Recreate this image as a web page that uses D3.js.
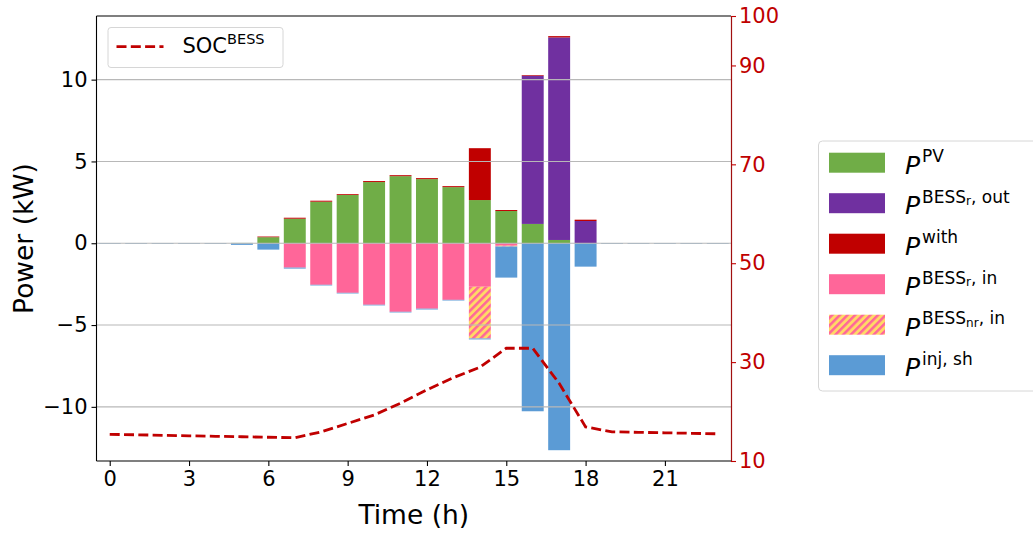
<!DOCTYPE html>
<html>
<head>
<meta charset="utf-8">
<script src="https://cdn.jsdelivr.net/npm/d3@7"></script>
<style>
  html, body { margin: 0; padding: 0; background: #fff; }
  svg { display: block; font-family: "DejaVu Sans", sans-serif; }
</style>
</head>
<body>
<svg id="chart" width="1033" height="534"></svg>
<script>
// Hourly power balance (kW) and battery state of charge (%)
const hours = d3.range(24);
const pv          = [0, 0, 0, 0, 0, 0.02, 0.37, 1.50, 2.54, 2.95, 3.74, 4.10, 3.92, 3.43, 2.64, 1.97, 1.18, 0.20, 0, 0, 0, 0, 0, 0];
const bessROut    = [0, 0, 0, 0, 0, 0, 0, 0, 0, 0, 0, 0, 0, 0, 0, 0, 9.06, 12.38, 1.36, 0, 0, 0, 0, 0];
const withdrawal  = [0, 0, 0, 0, 0, 0, 0.04, 0.06, 0.06, 0.05, 0.06, 0.06, 0.06, 0.06, 3.17, 0.06, 0.04, 0.08, 0.08, 0, 0, 0, 0, 0];
const bessRIn     = [0, 0, 0, 0, 0, 0, 0, -1.49, -2.54, -3.03, -3.76, -4.19, -4.00, -3.46, -2.66, -0.15, 0, 0, 0, 0, 0, 0, 0, 0];
const bessNrIn    = [0, 0, 0, 0, 0, 0, 0, 0, 0, 0, 0, 0, 0, 0, -3.16, -0.05, 0, 0, 0, 0, 0, 0, 0, 0];
const injSh       = [-0.04, -0.04, -0.04, -0.04, -0.04, -0.10, -0.39, -0.06, -0.04, -0.04, -0.04, -0.04, -0.05, -0.04, -0.06, -1.90, -10.27, -12.65, -1.43, -0.04, -0.04, -0.04, -0.04, -0.04];
const soc         = [15.4, 15.3, 15.2, 15.1, 15.0, 14.9, 14.8, 14.7, 15.9, 17.6, 19.3, 21.7, 24.4, 26.85, 28.95, 32.8, 32.8, 25.7, 16.9, 15.9, 15.8, 15.7, 15.6, 15.5];

const xTicks = [0, 3, 6, 9, 12, 15, 18, 21];
const yTicks = [-10, -5, 0, 5, 10];
const socTicks = [10, 30, 50, 70, 90, 100];

const seriesKeys = ["pv", "bessROut", "withdrawal", "bessRIn", "bessNrIn", "injSh"];
const seriesData = { pv, bessROut, withdrawal, bessRIn, bessNrIn, injSh };
const colors = {
  pv: "#70AD47", bessROut: "#7030A0", withdrawal: "#C00000",
  bessRIn: "#FF6699", bessNrIn: "url(#hatchNr)", injSh: "#5B9BD5"
};
const socColor = "#C00000";

const svg = d3.select("#chart");
const plot = { left: 96.5, right: 731, top: 16, bottom: 461 };

// hatch: pink diagonal stripes on yellow
const defs = svg.append("defs");
const pat = defs.append("pattern")
  .attr("id", "hatchNr").attr("patternUnits", "userSpaceOnUse")
  .attr("width", 5.4).attr("height", 5.4)
  .attr("patternTransform", "rotate(45)");
pat.append("rect").attr("width", 5.4).attr("height", 5.4).attr("fill", "#FFD966");
pat.append("rect").attr("width", 2.5).attr("height", 5.4).attr("fill", "#FF6699");

const x = d3.scaleLinear().domain([-0.5, 23.5]).range([plot.left, plot.right]);
const y = d3.scaleLinear().domain([-13.31, 13.89]).range([plot.bottom, plot.top]);
const ySoc = d3.scaleLinear().domain([10, 100]).range([plot.bottom, plot.top]);

const rows = hours.map(h => {
  const r = { hour: h };
  seriesKeys.forEach(k => r[k] = seriesData[k][h]);
  return r;
});
const stacked = d3.stack().keys(seriesKeys).offset(d3.stackOffsetDiverging)(rows);

const barW = (x(0.83) - x(0));
const barsG = svg.append("g");
stacked.forEach(layer => {
  barsG.append("g").attr("fill", colors[layer.key])
    .selectAll("rect").data(layer).join("rect")
    .attr("x", d => x(d.data.hour) - barW / 2)
    .attr("width", barW)
    .attr("y", d => y(Math.max(d[0], d[1])))
    .attr("height", d => Math.abs(y(d[0]) - y(d[1])));
});

// horizontal grid above the bars
svg.append("g").selectAll("line").data(yTicks).join("line")
  .attr("x1", plot.left).attr("x2", plot.right)
  .attr("y1", d => y(d)).attr("y2", d => y(d))
  .attr("stroke", "#b8b8b8").attr("stroke-width", 1.1);

// SOC line on secondary axis
svg.append("path")
  .datum(hours)
  .attr("fill", "none")
  .attr("stroke", socColor)
  .attr("stroke-width", 2.8)
  .attr("stroke-dasharray", "10,4.3")
  .attr("d", d3.line().x(h => x(h)).y(h => ySoc(soc[h])));

// spines
svg.append("line").attr("x1", plot.left).attr("x2", plot.right).attr("y1", plot.top).attr("y2", plot.top)
  .attr("stroke", "#000").attr("stroke-width", 1.1);
svg.append("line").attr("x1", plot.left).attr("x2", plot.right).attr("y1", plot.bottom).attr("y2", plot.bottom)
  .attr("stroke", "#000").attr("stroke-width", 1.1);
svg.append("line").attr("x1", plot.left).attr("x2", plot.left).attr("y1", plot.top).attr("y2", plot.bottom)
  .attr("stroke", "#000").attr("stroke-width", 1.1);

// left axis
const yAxis = svg.append("g").attr("transform", `translate(${plot.left},0)`)
  .call(d3.axisLeft(y).tickValues(yTicks).tickSize(5).tickPadding(4)
    .tickFormat(d => d < 0 ? "\u2212" + Math.abs(d) : d));
yAxis.select(".domain").remove();
yAxis.selectAll("text").attr("font-size", 21).attr("fill", "#000").attr("font-family", "DejaVu Sans");
yAxis.selectAll("line").attr("stroke", "#000").attr("stroke-width", 1.1);

// bottom axis
const xAxis = svg.append("g").attr("transform", `translate(0,${plot.bottom})`)
  .call(d3.axisBottom(x).tickValues(xTicks).tickSize(5).tickPadding(5));
xAxis.select(".domain").remove();
xAxis.selectAll("text").attr("font-size", 21).attr("fill", "#000").attr("font-family", "DejaVu Sans");
xAxis.selectAll("line").attr("stroke", "#000").attr("stroke-width", 1.1);

// right axis (SOC)
const rAxis = svg.append("g").attr("transform", `translate(${plot.right},0)`)
  .call(d3.axisRight(ySoc).tickValues(socTicks).tickSize(5).tickPadding(3));
rAxis.select(".domain").attr("stroke", "#a01010").attr("stroke-width", 1.2);
rAxis.selectAll("text").attr("font-size", 21).attr("fill", socColor).attr("font-family", "DejaVu Sans");
rAxis.selectAll("line").attr("stroke", socColor).attr("stroke-width", 1.1);

// axis titles
svg.append("text").attr("x", (plot.left + plot.right) / 2).attr("y", 524)
  .attr("text-anchor", "middle").attr("font-size", 26.5).text("Time (h)");
svg.append("text").attr("transform", `translate(33,${(plot.top + plot.bottom) / 2}) rotate(-90)`)
  .attr("text-anchor", "middle").attr("font-size", 26.5).text("Power (kW)");

// SOC legend (inside plot, top-left)
const lg1 = svg.append("g");
lg1.append("rect").attr("x", 108).attr("y", 27.5).attr("width", 175).attr("height", 40)
  .attr("rx", 3).attr("fill", "#fff").attr("fill-opacity", 0.8)
  .attr("stroke", "#d6d6d6").attr("stroke-width", 1);
lg1.append("line").attr("x1", 116.5).attr("x2", 163.5).attr("y1", 46.7).attr("y2", 46.7)
  .attr("stroke", socColor).attr("stroke-width", 2.8).attr("stroke-dasharray", "10,4.3");
const t1 = lg1.append("text").attr("x", 182.5).attr("y", 52.7).attr("font-size", 21);
t1.append("tspan").text("SOC");
t1.append("tspan").attr("font-size", 14.5).attr("dy", -8.4).text("BESS");

// series legend (right side)
const lg2 = svg.append("g");
lg2.append("rect").attr("x", 818.5).attr("y", 141).attr("width", 230).attr("height", 250)
  .attr("rx", 4).attr("fill", "#fff").attr("stroke", "#d6d6d6").attr("stroke-width", 1);

const legendItems = [
  { key: "pv", sup: "PV", sub: null, tail: "" },
  { key: "bessROut", sup: "BESS", sub: "r", tail: ", out" },
  { key: "withdrawal", sup: "with", sub: null, tail: "" },
  { key: "bessRIn", sup: "BESS", sub: "r", tail: ", in" },
  { key: "bessNrIn", sup: "BESS", sub: "nr", tail: ", in" },
  { key: "injSh", sup: "inj, sh", sub: null, tail: "" }
];
legendItems.forEach((it, i) => {
  const cy = 162.7 + i * 40.5;
  lg2.append("rect").attr("x", 829).attr("y", cy - 10).attr("width", 56).attr("height", 20)
    .attr("fill", colors[it.key]);
  const t = lg2.append("text").attr("x", 905).attr("y", cy + 10.8).attr("font-size", 25);
  t.append("tspan").attr("font-style", "italic").text("P");
  t.append("tspan").attr("font-size", 17).attr("dx", 2).attr("dy", -11.4).text(it.sup);
  if (it.sub) {
    t.append("tspan").attr("font-size", 12).attr("dy", 2.6).text(it.sub);
    t.append("tspan").attr("font-size", 17).attr("dy", -2.6).text(it.tail);
  }
});
</script>
</body>
</html>
